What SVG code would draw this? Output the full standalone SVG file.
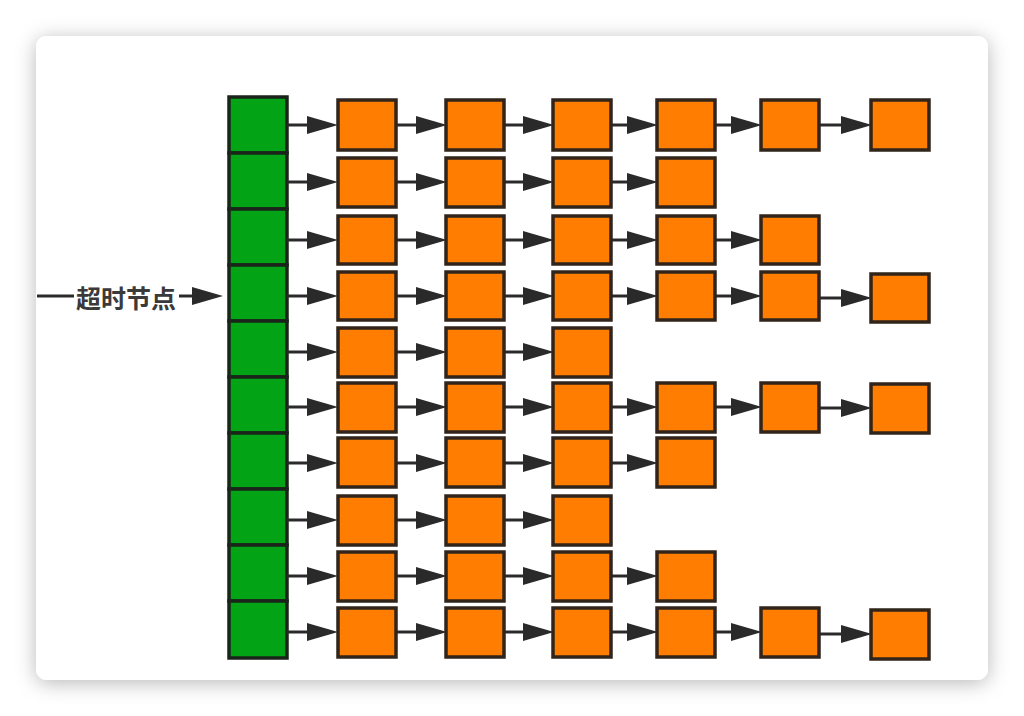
<svg xmlns="http://www.w3.org/2000/svg" width="1024" height="716" viewBox="0 0 1024 716">
<style>
.bucket{fill:#02a315;stroke:#1a241a;stroke-width:3.5}
.node{fill:#ff7d00;stroke:#30241b;stroke-width:3.5}
.edge{stroke:#2a2a2a;stroke-width:3;fill:none;marker-end:url(#ah)}
.plain{stroke:#2a2a2a;stroke-width:3;fill:none}
.lbl{font-family:"Noto Sans CJK SC","Noto Sans",sans-serif;font-weight:bold;font-size:25px;fill:#3a3a3a}
</style>
<defs>
<filter id="sh" x="-10%" y="-10%" width="120%" height="125%">
<feDropShadow dx="0" dy="3" stdDeviation="10" flood-color="#000" flood-opacity="0.28"/>
</filter>
<marker id="ah" viewBox="0 0 31 18" refX="10" refY="9" markerWidth="31" markerHeight="18" markerUnits="userSpaceOnUse" orient="auto">
<path d="M0,0 L31,9 L0,18 Z" fill="#2a2a2a"/>
</marker>
</defs>
<rect width="1024" height="716" fill="#ffffff"/>
<rect x="36" y="36" width="952" height="644" rx="11" fill="#ffffff" filter="url(#sh)"/>

<g id="label">
<line class="plain" x1="37" y1="296" x2="74" y2="296"/>
<text class="lbl" x="76" y="308">超时节点</text>
<line class="edge" x1="179" y1="296" x2="202" y2="296"/>
</g>

<g id="buckets">
<rect id="b1" class="bucket" x="229" y="97" width="58" height="56"/>
<rect id="b2" class="bucket" x="229" y="153" width="58" height="56"/>
<rect id="b3" class="bucket" x="229" y="209" width="58" height="56"/>
<rect id="b4" class="bucket" x="229" y="265" width="58" height="56"/>
<rect id="b5" class="bucket" x="229" y="321" width="58" height="56"/>
<rect id="b6" class="bucket" x="229" y="377" width="58" height="56"/>
<rect id="b7" class="bucket" x="229" y="433" width="58" height="56"/>
<rect id="b8" class="bucket" x="229" y="489" width="58" height="56"/>
<rect id="b9" class="bucket" x="229" y="545" width="58" height="56"/>
<rect id="b10" class="bucket" x="229" y="601" width="58" height="57"/>
</g>

<g id="connectors">
<line class="edge" x1="287" y1="125" x2="317" y2="125"/>
<line class="edge" x1="396" y1="125" x2="426" y2="125"/>
<line class="edge" x1="504" y1="125" x2="533" y2="125"/>
<line class="edge" x1="611" y1="125" x2="637" y2="125"/>
<line class="edge" x1="715" y1="125" x2="741" y2="125"/>
<line class="edge" x1="819" y1="125" x2="851" y2="125"/>
<line class="edge" x1="287" y1="182" x2="317" y2="182"/>
<line class="edge" x1="396" y1="182" x2="426" y2="182"/>
<line class="edge" x1="504" y1="182" x2="533" y2="182"/>
<line class="edge" x1="611" y1="182" x2="637" y2="182"/>
<line class="edge" x1="287" y1="240" x2="317" y2="240"/>
<line class="edge" x1="396" y1="240" x2="426" y2="240"/>
<line class="edge" x1="504" y1="240" x2="533" y2="240"/>
<line class="edge" x1="611" y1="240" x2="637" y2="240"/>
<line class="edge" x1="715" y1="240" x2="741" y2="240"/>
<line class="edge" x1="287" y1="296" x2="317" y2="296"/>
<line class="edge" x1="396" y1="296" x2="426" y2="296"/>
<line class="edge" x1="504" y1="296" x2="533" y2="296"/>
<line class="edge" x1="611" y1="296" x2="637" y2="296"/>
<line class="edge" x1="715" y1="296" x2="741" y2="296"/>
<line class="edge" x1="819" y1="298" x2="851" y2="298"/>
<line class="edge" x1="287" y1="352" x2="317" y2="352"/>
<line class="edge" x1="396" y1="352" x2="426" y2="352"/>
<line class="edge" x1="504" y1="352" x2="533" y2="352"/>
<line class="edge" x1="287" y1="407" x2="317" y2="407"/>
<line class="edge" x1="396" y1="407" x2="426" y2="407"/>
<line class="edge" x1="504" y1="407" x2="533" y2="407"/>
<line class="edge" x1="611" y1="407" x2="637" y2="407"/>
<line class="edge" x1="715" y1="407" x2="741" y2="407"/>
<line class="edge" x1="819" y1="408" x2="851" y2="408"/>
<line class="edge" x1="287" y1="463" x2="317" y2="463"/>
<line class="edge" x1="396" y1="463" x2="426" y2="463"/>
<line class="edge" x1="504" y1="463" x2="533" y2="463"/>
<line class="edge" x1="611" y1="463" x2="637" y2="463"/>
<line class="edge" x1="287" y1="520" x2="317" y2="520"/>
<line class="edge" x1="396" y1="520" x2="426" y2="520"/>
<line class="edge" x1="504" y1="520" x2="533" y2="520"/>
<line class="edge" x1="287" y1="576" x2="317" y2="576"/>
<line class="edge" x1="396" y1="576" x2="426" y2="576"/>
<line class="edge" x1="504" y1="576" x2="533" y2="576"/>
<line class="edge" x1="611" y1="576" x2="637" y2="576"/>
<line class="edge" x1="287" y1="632" x2="317" y2="632"/>
<line class="edge" x1="396" y1="632" x2="426" y2="632"/>
<line class="edge" x1="504" y1="632" x2="533" y2="632"/>
<line class="edge" x1="611" y1="632" x2="637" y2="632"/>
<line class="edge" x1="715" y1="632" x2="741" y2="632"/>
<line class="edge" x1="819" y1="634" x2="851" y2="634"/>
</g>

<g id="row1">
<rect id="n1_1" class="node" x="338" y="100" width="58" height="50"/>
<rect id="n1_2" class="node" x="446" y="100" width="58" height="50"/>
<rect id="n1_3" class="node" x="553" y="100" width="58" height="50"/>
<rect id="n1_4" class="node" x="657" y="100" width="58" height="50"/>
<rect id="n1_5" class="node" x="761" y="100" width="58" height="50"/>
<rect id="n1_6" class="node" x="871" y="100" width="58" height="50"/>
</g>
<g id="row2">
<rect id="n2_1" class="node" x="338" y="158" width="58" height="49"/>
<rect id="n2_2" class="node" x="446" y="158" width="58" height="49"/>
<rect id="n2_3" class="node" x="553" y="158" width="58" height="49"/>
<rect id="n2_4" class="node" x="657" y="158" width="58" height="49"/>
</g>
<g id="row3">
<rect id="n3_1" class="node" x="338" y="216" width="58" height="48"/>
<rect id="n3_2" class="node" x="446" y="216" width="58" height="48"/>
<rect id="n3_3" class="node" x="553" y="216" width="58" height="48"/>
<rect id="n3_4" class="node" x="657" y="216" width="58" height="48"/>
<rect id="n3_5" class="node" x="761" y="216" width="58" height="48"/>
</g>
<g id="row4">
<rect id="n4_1" class="node" x="338" y="272" width="58" height="48"/>
<rect id="n4_2" class="node" x="446" y="272" width="58" height="48"/>
<rect id="n4_3" class="node" x="553" y="272" width="58" height="48"/>
<rect id="n4_4" class="node" x="657" y="272" width="58" height="48"/>
<rect id="n4_5" class="node" x="761" y="272" width="58" height="48"/>
<rect id="n4_6" class="node" x="871" y="274" width="58" height="48"/>
</g>
<g id="row5">
<rect id="n5_1" class="node" x="338" y="328" width="58" height="49"/>
<rect id="n5_2" class="node" x="446" y="328" width="58" height="49"/>
<rect id="n5_3" class="node" x="553" y="328" width="58" height="49"/>
</g>
<g id="row6">
<rect id="n6_1" class="node" x="338" y="383" width="58" height="49"/>
<rect id="n6_2" class="node" x="446" y="383" width="58" height="49"/>
<rect id="n6_3" class="node" x="553" y="383" width="58" height="49"/>
<rect id="n6_4" class="node" x="657" y="383" width="58" height="49"/>
<rect id="n6_5" class="node" x="761" y="383" width="58" height="49"/>
<rect id="n6_6" class="node" x="871" y="384" width="58" height="49"/>
</g>
<g id="row7">
<rect id="n7_1" class="node" x="338" y="438" width="58" height="49"/>
<rect id="n7_2" class="node" x="446" y="438" width="58" height="49"/>
<rect id="n7_3" class="node" x="553" y="438" width="58" height="49"/>
<rect id="n7_4" class="node" x="657" y="438" width="58" height="49"/>
</g>
<g id="row8">
<rect id="n8_1" class="node" x="338" y="496" width="58" height="49"/>
<rect id="n8_2" class="node" x="446" y="496" width="58" height="49"/>
<rect id="n8_3" class="node" x="553" y="496" width="58" height="49"/>
</g>
<g id="row9">
<rect id="n9_1" class="node" x="338" y="552" width="58" height="49"/>
<rect id="n9_2" class="node" x="446" y="552" width="58" height="49"/>
<rect id="n9_3" class="node" x="553" y="552" width="58" height="49"/>
<rect id="n9_4" class="node" x="657" y="552" width="58" height="49"/>
</g>
<g id="row10">
<rect id="n10_1" class="node" x="338" y="608" width="58" height="49"/>
<rect id="n10_2" class="node" x="446" y="608" width="58" height="49"/>
<rect id="n10_3" class="node" x="553" y="608" width="58" height="49"/>
<rect id="n10_4" class="node" x="657" y="608" width="58" height="49"/>
<rect id="n10_5" class="node" x="761" y="608" width="58" height="49"/>
<rect id="n10_6" class="node" x="871" y="610" width="58" height="49"/>
</g>
</svg>
